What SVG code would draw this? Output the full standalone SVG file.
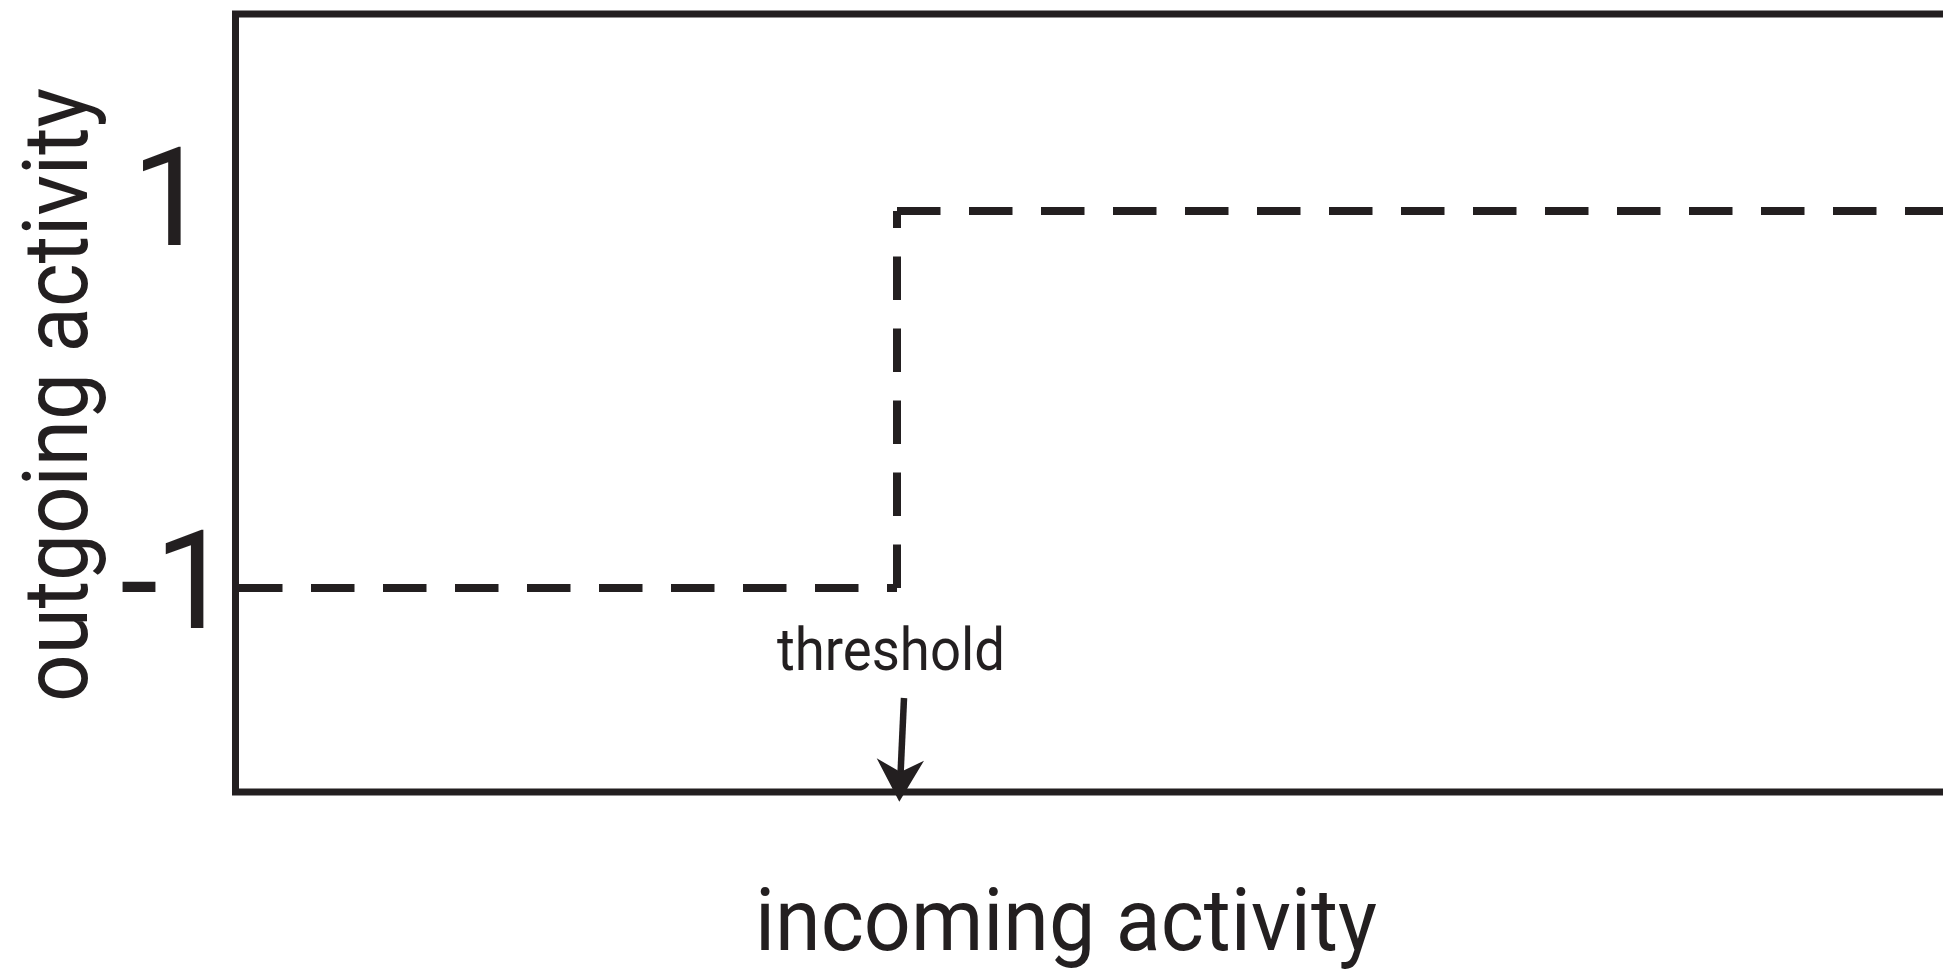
<svg xmlns="http://www.w3.org/2000/svg" width="1943" height="970" viewBox="0 0 1943 970">
  <style>
    .lbl { font-family: Roboto, "Liberation Sans", sans-serif; fill: #231f20; }
    .frame { fill: none; stroke: #231f20; stroke-width: 7; }
    .dash { fill: none; stroke: #231f20; stroke-width: 8; stroke-dasharray: 43.5 28.5; stroke-linecap: butt; }
  </style>
  <rect width="1943" height="970" fill="#ffffff"/>
  <g id="plot-frame">
    <rect class="frame" x="235.5" y="14" width="1800" height="778"/>
  </g>
  <g id="connectors">
    <path class="dash" d="M239,588 H897"/>
    <path class="dash" d="M897,588 V211"/>
    <path class="dash" d="M897,211 H1943"/>
    <g id="threshold-arrow">
      <line x1="904" y1="698" x2="900.5" y2="775" stroke="#231f20" stroke-width="6.5"/>
      <path d="M899.3,801.7 L876.7,758.3 L900.5,772 L924,760.7 Z" fill="#231f20"/>
    </g>
  </g>
  <g id="tick-1">
    <text class="lbl" x="131.5" y="245" font-size="138">1</text>
  </g>
  <g id="tick-minus1">
    <text class="lbl" x="120" y="628" font-size="138" letter-spacing="-4">-1</text>
  </g>
  <g id="threshold-label">
    <text class="lbl" x="777" y="670" font-size="60" textLength="228" lengthAdjust="spacingAndGlyphs">threshold</text>
  </g>
  <g id="x-axis-label">
    <text class="lbl" x="755" y="950" font-size="88" textLength="622" lengthAdjust="spacingAndGlyphs">incoming activity</text>
  </g>
  <g id="y-axis-label">
    <text class="lbl" transform="translate(87,702) rotate(-90)" x="0" y="0" font-size="90" textLength="614" lengthAdjust="spacingAndGlyphs">outgoing activity</text>
  </g>
</svg>
